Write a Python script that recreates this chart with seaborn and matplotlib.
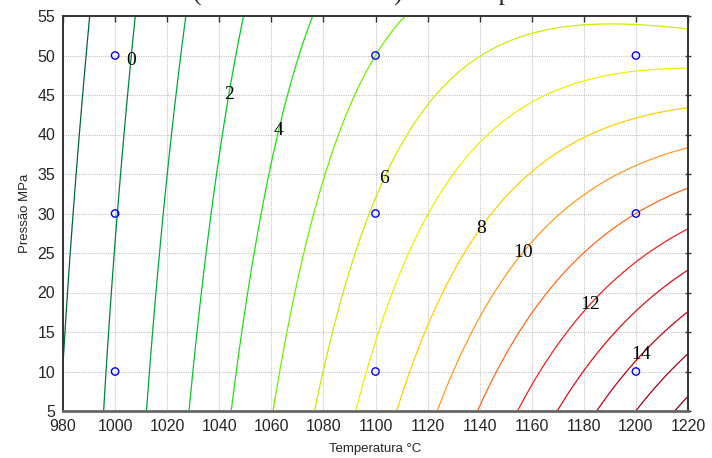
import numpy as np
import pandas as pd
import matplotlib
matplotlib.use("Agg")
import matplotlib.pyplot as plt
import seaborn as sns
from matplotlib.colors import ListedColormap

# Design points of the experiment
temperatura = [1000, 1100, 1200]   # °C
pressao = [10, 30, 50]             # MPa

# Response at each design point (P = 10, 30, 50)
resp_1000 = [0.25, -0.06, -0.42]
resp_1100 = [7.45, 6.13, 4.80]
resp_1200 = [14.66, 10.80, 6.80]

# Contour levels (every 1.2) and the ones carrying a label
niveis = np.round(np.arange(-1.2, 17.0, 1.2), 1)
niveis_rotulo = [0.0, 2.4, 3.6, 6.0, 8.4, 9.6, 12.0, 14.4]

x_ticks = list(range(980, 1221, 20))
y_ticks = list(range(5, 56, 5))

titulo = "(Densidade relativa) com temperatura"

# where the labels sit (data coords)
pos_rotulo = [(1004.6, 49.4), (1043.7, 45.0), (1062.2, 40.6), (1101.7, 34.6),
              (1139.8, 28.3), (1156.6, 25.0), (1182.4, 18.4), (1203.5, 11.7)]

sns.set_style("white")
plt.rcParams["font.family"] = ["Liberation Sans", "DejaVu Sans"]


def base(u, v):
    # full biquadratic basis in scaled temperature / pressure
    return np.stack([u ** i * v ** j for i in range(3) for j in range(3)], axis=-1)


# fit the response surface through the nine design points
T_pts, P_pts = np.meshgrid(temperatura, pressao, indexing="ij")
Z_pts = np.array([resp_1000, resp_1100, resp_1200])
u_pts = (T_pts.ravel() - 1100) / 100.0
v_pts = (P_pts.ravel() - 30) / 20.0
coef = np.linalg.solve(base(u_pts, v_pts), Z_pts.ravel())

tt = np.linspace(980, 1220, 241)
pp = np.linspace(5, 55, 201)
TT, PP = np.meshgrid(tt, pp)
ZZ = base((TT - 1100) / 100.0, (PP - 30) / 20.0) @ coef

# green -> yellow -> red, one colour per level
cmap = ListedColormap(
    ["#006633", "#00843c", "#00a83a", "#00c828", "#22e010", "#70ee00",
     "#c4f000", "#eef000", "#ffd000", "#ff9a20", "#ff6818", "#f02020",
     "#d81018", "#c00018", "#a00010", "#880010"], name="statistica")
cores = [cmap(i) for i in range(len(niveis))]

fig = plt.figure(figsize=(7.12, 4.58), dpi=100)
ax = fig.add_axes([63 / 712, 47 / 458, 625 / 712, 395 / 458])

cs = ax.contour(TT, PP, ZZ, levels=niveis, colors=cores, linewidths=0.9)
# invisible copy of the labelled levels, used only for the numbers
cs_lab = ax.contour(TT, PP, ZZ, levels=niveis_rotulo, colors="none", linewidths=0)
rotulos = ax.clabel(cs_lab, inline=False, fmt="%.0f",
                    manual=pos_rotulo, colors="black", fontsize=14)
for t in rotulos:
    t.set_rotation(0)
    t.set_fontfamily("Liberation Serif")

pontos = pd.DataFrame({"T": T_pts.ravel(), "P": P_pts.ravel()})
sns.scatterplot(data=pontos, x="T", y="P", marker="o", s=28,
                facecolor="none", edgecolor="blue", linewidth=1.0, ax=ax, zorder=5)

ax.set_xlim(980, 1220)
ax.set_ylim(5, 55)
ax.set_xticks(x_ticks)
ax.set_yticks(y_ticks)
ax.grid(True, color="#c4c4c4", linewidth=0.8, linestyle=(0, (1, 1)))
ax.set_axisbelow(True)
ax.tick_params(top=True, right=True, width=1, labelsize=11.5, color="#333333")
ax.tick_params(axis="x", direction="in", length=4, pad=6)
ax.tick_params(axis="y", direction="inout", length=5, pad=3)
for s in ax.spines.values():
    s.set_color("#333333")
    s.set_linewidth(1.4)
ax.spines["bottom"].set_color("#666666")
ax.spines["bottom"].set_linewidth(2)

ax.set_xlabel("Temperatura °C", fontsize=9.5, labelpad=6)
ax.set_ylabel("Pressão MPa", fontsize=9.5, labelpad=5)

fig.text(193 / 712, 1 - 1 / 458, titulo, ha="left", va="baseline",
         fontsize=18.5, family="Liberation Serif")

fig.savefig("out.png", dpi=100)
